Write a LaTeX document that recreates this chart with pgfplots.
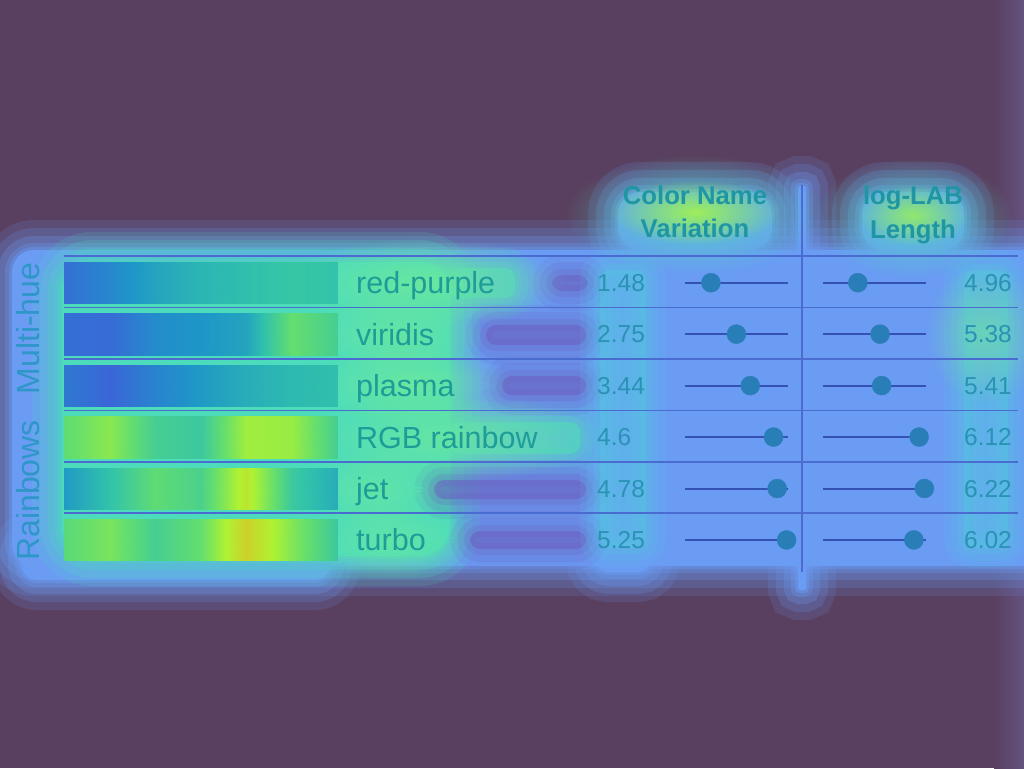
\documentclass[border=0pt]{standalone}
\usepackage{pgfplots}
\pgfplotsset{compat=1.18}
\usepackage{pgfplotstable}
\usetikzlibrary{fadings}
\usepackage{fontspec}
\setmainfont{Liberation Sans}

\definecolor{bg}{HTML}{5A4060}
\definecolor{strip}{HTML}{64527F}
\definecolor{glow}{HTML}{6A9CF4}
\definecolor{cyanglow}{HTML}{4CDCBC}
\definecolor{numglow}{HTML}{52C8E0}
\definecolor{greenglow}{HTML}{72EA98}
\definecolor{yglow}{HTML}{A8F050}
\definecolor{dimc}{HTML}{6A5EBE}
\definecolor{namec}{HTML}{1E9C98}
\definecolor{numc}{HTML}{2A92B4}
\definecolor{headc}{HTML}{2096A4}
\definecolor{grpc}{HTML}{2F96C8}
\definecolor{dotc}{HTML}{2A7EB8}
\definecolor{trackc}{HTML}{3452B4}
\definecolor{rulec}{HTML}{4A6CD0}

\tikzfading[name=blob, inner color=transparent!0, outer color=transparent!100]

\newcommand\namefont{\fontsize{30.5}{36}\selectfont}
\newcommand\numfont{\fontsize{24.5}{30}\selectfont}
\newcommand\headfont{\fontsize{25.7}{30}\selectfont\bfseries}
\newcommand\grpfont{\fontsize{32}{38}\selectfont}

% soft glow shape: #1 colour, #2 corner radius, #3 coordinates
\newcommand\softshape[3]{%
 \addplot[draw=#1,line width=60pt,draw opacity=.15,rounded corners=#2] coordinates {#3} -- cycle;
 \addplot[draw=#1,line width=44pt,draw opacity=.2,rounded corners=#2] coordinates {#3} -- cycle;
 \addplot[draw=#1,line width=28pt,draw opacity=.25,rounded corners=#2] coordinates {#3} -- cycle;
 \addplot[draw=#1,line width=14pt,draw opacity=.3,rounded corners=#2] coordinates {#3} -- cycle;
 \addplot[draw=#1,line width=6pt,draw opacity=.4,rounded corners=#2] coordinates {#3} -- cycle;
 \addplot[fill=#1,draw=none,rounded corners=#2] coordinates {#3} -- cycle;}
% smaller blur: #1 colour, #2 fill opacity, #3 coordinates
\newcommand\softsmall[3]{%
 \addplot[draw=#1,line width=40pt,draw opacity=.12,rounded corners=10pt] coordinates {#3} -- cycle;
 \addplot[draw=#1,line width=26pt,draw opacity=.16,rounded corners=10pt] coordinates {#3} -- cycle;
 \addplot[draw=#1,line width=12pt,draw opacity=.22,rounded corners=10pt] coordinates {#3} -- cycle;
 \addplot[fill=#1,fill opacity=#2,draw=none,rounded corners=10pt] coordinates {#3} -- cycle;}

% soft blob: #1 colour, #2 opacity, #3 cx, #4 cy, #5 a, #6 b
\newcommand\blob[6]{%
 \pgfmathsetmacro\bxa{#3-#5}\pgfmathsetmacro\bxb{#3+#5}%
 \pgfmathsetmacro\bya{#4-#6}\pgfmathsetmacro\byb{#4+#6}%
 \addplot[draw=none, fill=#1, fill opacity=#2, path fading=blob] coordinates {(\bxa,\bya) (\bxb,\bya) (\bxb,\byb) (\bxa,\byb)} -- cycle;}

\pgfplotstableread{
row name cnv lab
1 red-purple 1.48 4.96
2 viridis 2.75 5.38
3 plasma 3.44 5.41
4 {RGB rainbow} 4.6 6.12
5 jet 4.78 6.22
6 turbo 5.25 6.02
}\cmaps

\pgfplotsset{base/.style={scale only axis, height=768pt, ymin=0, ymax=768, y dir=reverse, hide axis},
  textlabels/.style={only marks, mark=*, mark size=0pt, mark options={draw=none, fill=none}, point meta=explicit symbolic, nodes near coords}}

\begin{document}
\begin{tikzpicture}
\begin{axis}[base, name=main, width=1024pt, xmin=0, xmax=1024,
  colormap={swatch}{rgb255(0cm)=(58,102,216); rgb255(1cm)=(30,150,200); rgb255(2cm)=(50,195,170); rgb255(3cm)=(100,222,110); rgb255(4cm)=(175,242,50); rgb255(5cm)=(212,200,40)},
  point meta min=0, point meta max=5]
% background
\addplot[draw=none, fill=bg] coordinates {(0,0)(1024,0)(1024,768)(0,768)} -- cycle;
\addplot[draw=none, left color=bg, right color=strip] coordinates {(994,0)(1024,0)(1024,768)(994,768)} -- cycle;
% glow
\softshape{glow}{22pt}{(12,250)(1045,250)(1045,566)(12,566)}
\softshape{glow}{22pt}{(618,192)(772,192)(772,250)(618,250)}
\softshape{glow}{22pt}{(862,192)(964,192)(964,250)(862,250)}
\softshape{glow}{2pt}{(798,186)(806,186)(806,590)(798,590)}
\softshape{glow}{15pt}{(22,540)(330,540)(330,580)(22,580)}
\softshape{glow}{12pt}{(596,540)(650,540)(650,572)(596,572)}
% cyan region on the left
\softshape{cyanglow}{30pt}{(62,262)(450,262)(450,556)(62,556)}
\softsmall{cyanglow}{0.6}{(450,268)(515,268)(515,298)(450,298)}
\softsmall{cyanglow}{0.6}{(450,422)(580,422)(580,454)(450,454)}
% purple-blue gaps
\softsmall{dimc}{0.5}{(552,275)(588,275)(588,291)(552,291)}
\softsmall{dimc}{0.55}{(486,325)(586,325)(586,345)(486,345)}
\softsmall{dimc}{0.55}{(502,376)(586,376)(586,395)(502,395)}
\softsmall{dimc}{0.55}{(434,480)(586,480)(586,499)(434,499)}
\softsmall{dimc}{0.55}{(470,531)(586,531)(586,549)(470,549)}
% number columns
\softsmall{numglow}{0.45}{(600,270)(646,270)(646,548)(600,548)}
\softsmall{numglow}{0.45}{(964,270)(1008,270)(1008,548)(964,548)}
% colour blobs
\blob{greenglow}{0.8}{425}{283}{140}{45}
\blob{greenglow}{0.7}{395}{334}{90}{40}
\blob{greenglow}{0.8}{410}{384}{100}{42}
\blob{greenglow}{0.7}{450}{437}{150}{45}
\blob{greenglow}{0.6}{375}{489}{70}{40}
\blob{greenglow}{0.6}{390}{540}{80}{40}
\blob{greenglow}{0.6}{985}{334}{60}{70}
\blob{cyanglow}{0.75}{695}{215}{130}{60}
\blob{yglow}{0.9}{695}{212}{85}{32}
\blob{cyanglow}{0.75}{913}{218}{100}{60}
\blob{yglow}{0.75}{913}{215}{55}{30}
% swatches
\addplot[surf, shader=interp, mesh/cols=7, point meta=explicit] table[meta=c] {
x y c
64 261.7 0.2
109.5 261.7 0.7
155 261.7 1.3
200.5 261.7 1.7
246 261.7 1.9
291.5 261.7 2.1
337 261.7 2.0
64 303.7 0.2
109.5 303.7 0.7
155 303.7 1.3
200.5 303.7 1.7
246 303.7 1.9
291.5 303.7 2.1
337 303.7 2.0
};
\addplot[surf, shader=interp, mesh/cols=7, point meta=explicit] table[meta=c] {
x y c
64 313.15 0.2
109.5 313.15 0.1
155 313.15 0.8
200.5 313.15 1.0
246 313.15 1.3
291.5 313.15 3.0
337 313.15 2.4
64 355.15 0.2
109.5 355.15 0.1
155 355.15 0.8
200.5 355.15 1.0
246 355.15 1.3
291.5 355.15 3.0
337 355.15 2.4
};
\addplot[surf, shader=interp, mesh/cols=7, point meta=explicit] table[meta=c] {
x y c
64 364.6 0.4
109.5 364.6 0.0
155 364.6 0.6
200.5 364.6 1.1
246 364.6 1.5
291.5 364.6 1.8
337 364.6 1.9
64 406.6 0.4
109.5 406.6 0.0
155 406.6 0.6
200.5 406.6 1.1
246 406.6 1.5
291.5 406.6 1.8
337 406.6 1.9
};
\addplot[surf, shader=interp, mesh/cols=7, point meta=explicit] table[meta=c] {
x y c
64 416.05 2.9
109.5 416.05 3.5
155 416.05 2.4
200.5 416.05 2.2
246 416.05 3.8
291.5 416.05 3.7
337 416.05 2.4
64 458.05 2.9
109.5 458.05 3.5
155 458.05 2.4
200.5 458.05 2.2
246 458.05 3.8
291.5 458.05 3.7
337 458.05 2.4
};
\addplot[surf, shader=interp, mesh/cols=7, point meta=explicit] table[meta=c] {
x y c
64 467.5 1.1
109.5 467.5 2.0
155 467.5 2.9
200.5 467.5 2.5
246 467.5 4.3
291.5 467.5 2.2
337 467.5 1.5
64 509.5 1.1
109.5 509.5 2.0
155 509.5 2.9
200.5 509.5 2.5
246 509.5 4.3
291.5 509.5 2.2
337 509.5 1.5
};
\addplot[surf, shader=interp, mesh/cols=7, point meta=explicit] table[meta=c] {
x y c
64 518.95 2.8
109.5 518.95 3.3
155 518.95 2.4
200.5 518.95 3.0
246 518.95 4.8
291.5 518.95 3.4
337 518.95 2.2
64 560.95 2.8
109.5 560.95 3.3
155 560.95 2.4
200.5 560.95 3.0
246 560.95 4.8
291.5 560.95 3.4
337 560.95 2.2
};
% rules
\addplot[rulec, line width=1.6pt, unbounded coords=jump] coordinates {
(64,256)(1018,256) (64,nan)
(64,307.45)(1018,307.45) (64,nan)
(64,358.9)(1018,358.9) (64,nan)
(64,410.35)(1018,410.35) (64,nan)
(64,461.8)(1018,461.8) (64,nan)
(64,513.25)(1018,513.25)};
\addplot[rulec, line width=1.6pt] coordinates {(802,185)(802,572)};
% names and numbers
\addplot[textlabels, every node near coord/.append style={anchor=base west, inner sep=0pt, font=\namefont, text=namec}]
  table[x expr=356, y expr=231.25+51.45*\thisrow{row}+11, meta=name] {\cmaps};
\addplot[textlabels, every node near coord/.append style={anchor=base west, inner sep=0pt, font=\numfont, text=numc}]
  table[x expr=597, y expr=231.25+51.45*\thisrow{row}+8.5, meta=cnv] {\cmaps};
\addplot[textlabels, every node near coord/.append style={anchor=base east, inner sep=0pt, font=\numfont, text=numc}]
  table[x expr=1012, y expr=231.25+51.45*\thisrow{row}+8.5, meta=lab] {\cmaps};
% headers and group labels
\node[anchor=base, inner sep=0pt, font=\headfont, text=headc] at (axis cs:695,204) {Color Name};
\node[anchor=base, inner sep=0pt, font=\headfont, text=headc] at (axis cs:695,237) {Variation};
\node[anchor=base, inner sep=0pt, font=\headfont, text=headc] at (axis cs:913,204) {log-LAB};
\node[anchor=base, inner sep=0pt, font=\headfont, text=headc] at (axis cs:913,238) {Length};
\node[anchor=base, rotate=90, inner sep=0pt, font=\grpfont, text=grpc] at (axis cs:39,328.5) {Multi-hue};
\node[anchor=base, rotate=90, inner sep=0pt, font=\grpfont, text=grpc] at (axis cs:39,490.5) {Rainbows};
\end{axis}

\begin{axis}[base, at={(685pt,0pt)}, anchor=south west, width=103pt, xmin=0.19, xmax=5.32, clip=false]
\addplot[trackc, line width=2pt, unbounded coords=jump] coordinates {
(0.19,282.7)(5.32,282.7) (0.19,nan)
(0.19,334.15)(5.32,334.15) (0.19,nan)
(0.19,385.6)(5.32,385.6) (0.19,nan)
(0.19,437.05)(5.32,437.05) (0.19,nan)
(0.19,488.5)(5.32,488.5) (0.19,nan)
(0.19,539.95)(5.32,539.95)};
\addplot[dotc, only marks, mark=*, mark size=9.5pt, mark options={fill=dotc, draw=dotc}]
  table[x=cnv, y expr=231.25+51.45*\thisrow{row}] {\cmaps};
\end{axis}

\begin{axis}[base, at={(823pt,0pt)}, anchor=south west, width=103pt, xmin=4.30, xmax=6.25, clip=false]
\addplot[trackc, line width=2pt, unbounded coords=jump] coordinates {
(4.30,282.7)(6.25,282.7) (4.30,nan)
(4.30,334.15)(6.25,334.15) (4.30,nan)
(4.30,385.6)(6.25,385.6) (4.30,nan)
(4.30,437.05)(6.25,437.05) (4.30,nan)
(4.30,488.5)(6.25,488.5) (4.30,nan)
(4.30,539.95)(6.25,539.95)};
\addplot[dotc, only marks, mark=*, mark size=9.5pt, mark options={fill=dotc, draw=dotc}]
  table[x=lab, y expr=231.25+51.45*\thisrow{row}] {\cmaps};
\end{axis}
\pgfresetboundingbox
\useasboundingbox (main.south west) rectangle (main.north east);
\end{tikzpicture}
\end{document}
